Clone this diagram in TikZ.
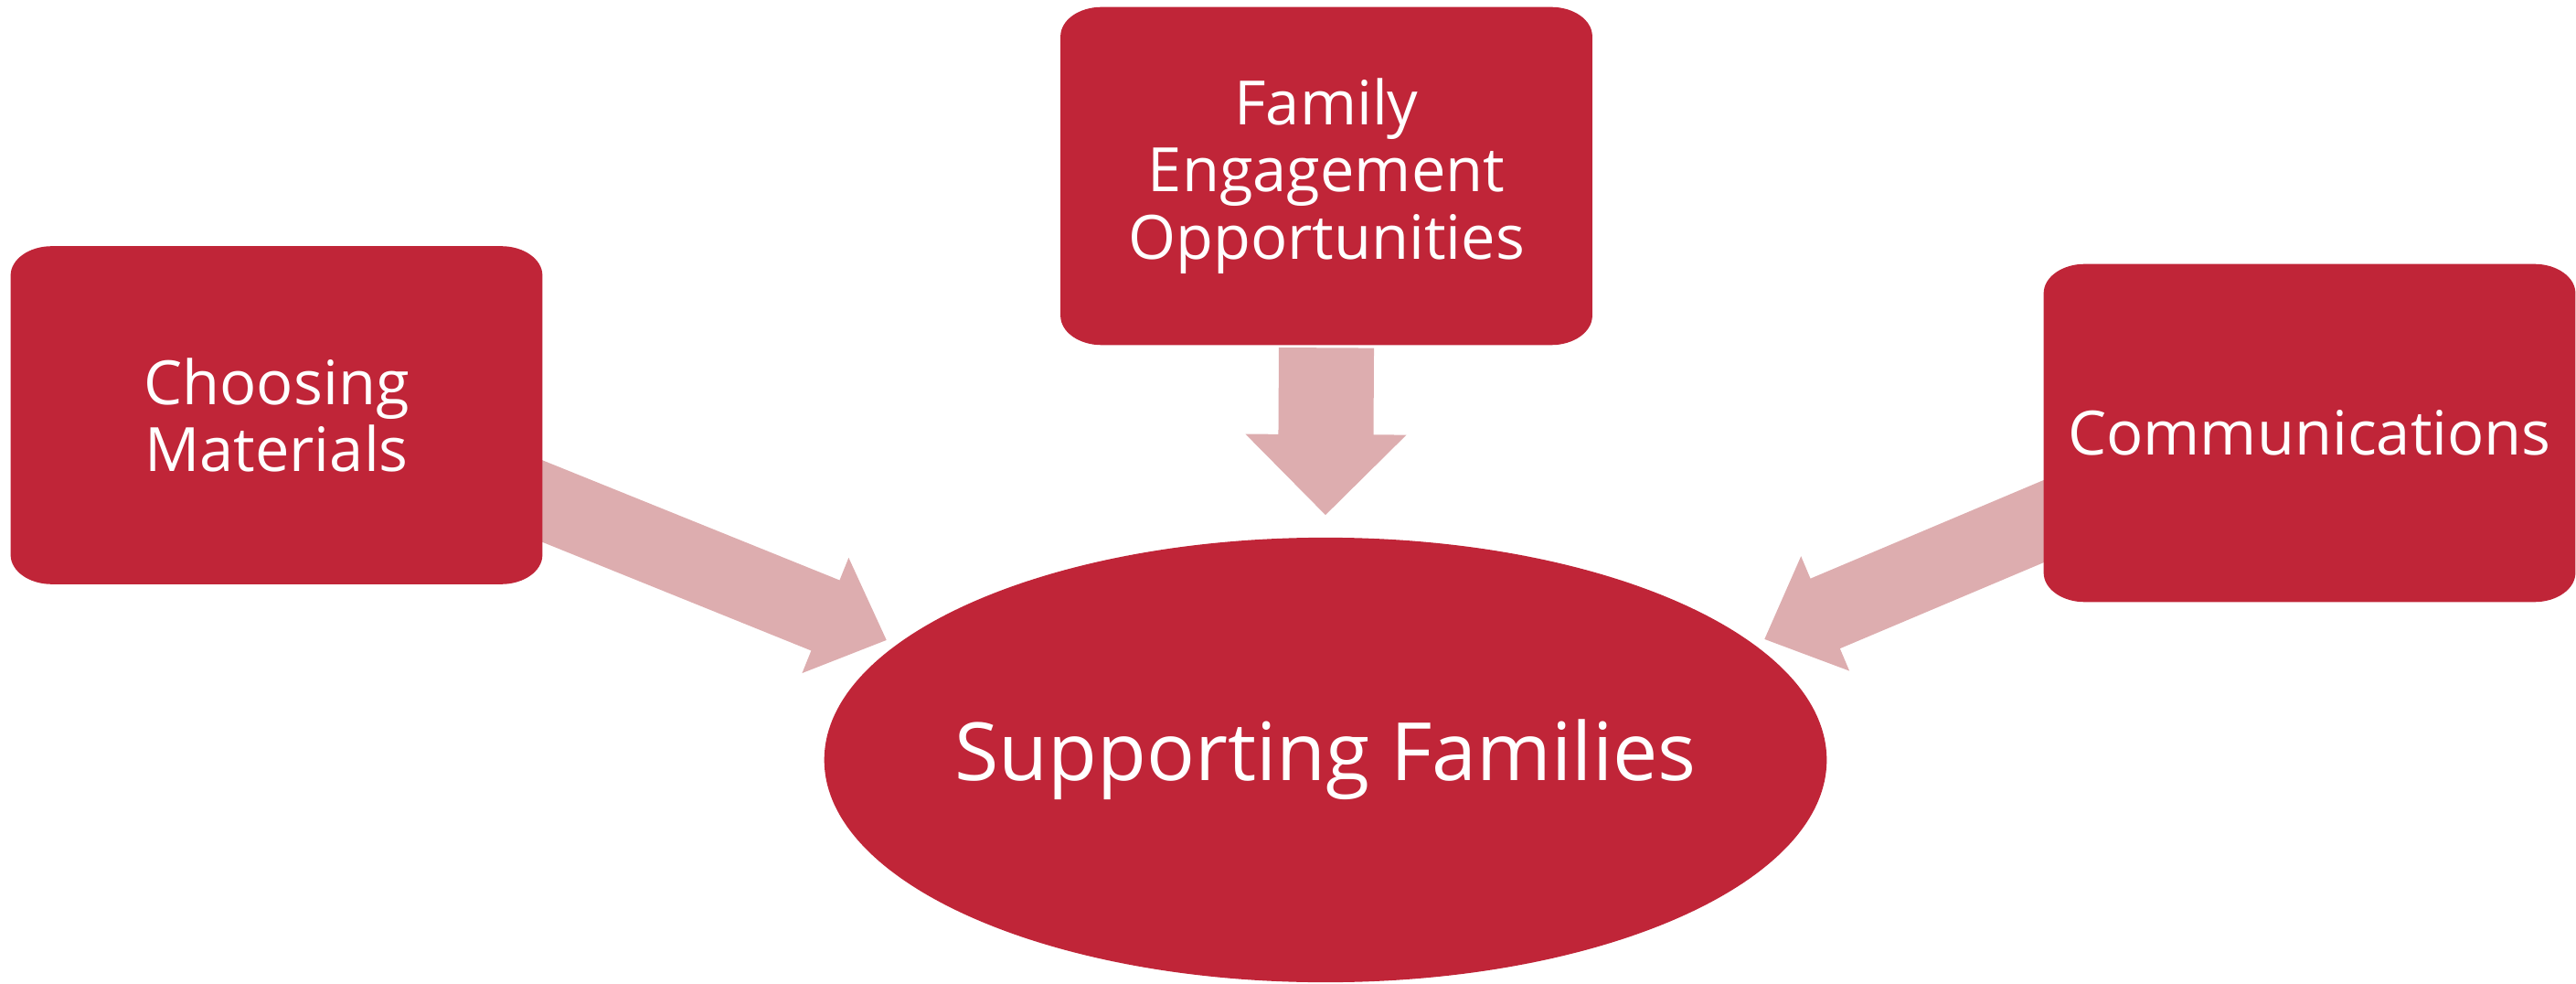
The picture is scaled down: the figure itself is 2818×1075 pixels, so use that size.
\documentclass[tikz,border=0pt]{standalone}
\usepackage{fontspec}
\setmainfont{Open Sans}
\usetikzlibrary{calc,shapes.geometric}
\definecolor{boxred}{RGB}{192,37,56}
\definecolor{arrowpink}{RGB}{221,173,175}
\pgfdeclarelayer{arrowlayer}
\pgfdeclarelayer{boxlayer}
\pgfsetlayers{arrowlayer,boxlayer,main}
\tikzset{
  boxtext/.style={minimum width=5.8cm, minimum height=3.68cm, inner sep=0pt,
    align=center, text=white, font=\fontsize{19}{21}\selectfont},
  centertext/.style={ellipse, fill=boxred, minimum width=10.96cm, minimum height=4.86cm,
    inner sep=0pt, text=white, font=\fontsize{25}{28}\selectfont},
  blockfill/.style={fill=arrowpink},
}
\newcommand\ellboxfill[1]{%
  \fill[boxred] ([xshift=0.45cm]#1.north west) -- ([xshift=-0.45cm]#1.north east)
    arc[start angle=90, end angle=0, x radius=0.45cm, y radius=0.32cm]
    -- ([yshift=0.32cm]#1.south east)
    arc[start angle=0, end angle=-90, x radius=0.45cm, y radius=0.32cm]
    -- ([xshift=0.45cm]#1.south west)
    arc[start angle=-90, end angle=-180, x radius=0.45cm, y radius=0.32cm]
    -- ([yshift=-0.32cm]#1.north west)
    arc[start angle=180, end angle=90, x radius=0.45cm, y radius=0.32cm] -- cycle;}
% #1 start, #2 tip, #3 half stem width, #4 half head width, #5 head length
\newcommand\blockarrow[5]{%
  \fill[blockfill] (#2) -- ($($(#2)!#5!(#1)$)!#4!-90:(#1)$)
    -- ($($(#2)!#5!(#1)$)!#3!-90:(#1)$)
    -- ($(#1)!#3!90:(#2)$) -- ($(#1)!#3!-90:(#2)$)
    -- ($($(#2)!#5!(#1)$)!#3!90:(#1)$)
    -- ($($(#2)!#5!(#1)$)!#4!90:(#1)$) -- cycle;}
\begin{document}
\begin{tikzpicture}[x=0.01cm, y=0.01cm]
\useasboundingbox (0,0) rectangle (2818,1075);
% nodes
\node[boxtext] (cm) at (302.5,621) {Choosing\\Materials};
\node[boxtext] (fe) at (1451,882.5) {Family\\Engagement\\Opportunities};
\node[boxtext] (co) at (2526.5,601.5) {Communications};
\node[centertext] (sf) at (1450,244) {\makebox[0pt]{Supporting Families}};
% box fills
\begin{pgfonlayer}{boxlayer}
  \ellboxfill{cm}
  \ellboxfill{fe}
  \ellboxfill{co}
\end{pgfonlayer}
% connectors
\coordinate (lE) at ([yshift=-0.94cm]cm.east);
\coordinate (lT) at ($(sf.center)+(-4.8cm,1.31cm)$);
\coordinate (lS) at ($(lT)!1.12!(lE)$);
\coordinate (rE) at ([yshift=-0.965cm]co.west);
\coordinate (rT) at ($(sf.center)+(4.8cm,1.32cm)$);
\coordinate (rS) at ($(rT)!1.12!(rE)$);
\coordinate (tS) at ([yshift=-0.03cm]fe.south);
\coordinate (tT) at ([yshift=0.24cm]sf.north);
\begin{pgfonlayer}{arrowlayer}
  \blockarrow{lS}{lT}{0.415cm}{0.68cm}{0.72cm}
  \blockarrow{rS}{rT}{0.415cm}{0.68cm}{0.72cm}
  \blockarrow{tS}{tT}{0.52cm}{0.88cm}{0.88cm}
\end{pgfonlayer}
\end{tikzpicture}
\end{document}
